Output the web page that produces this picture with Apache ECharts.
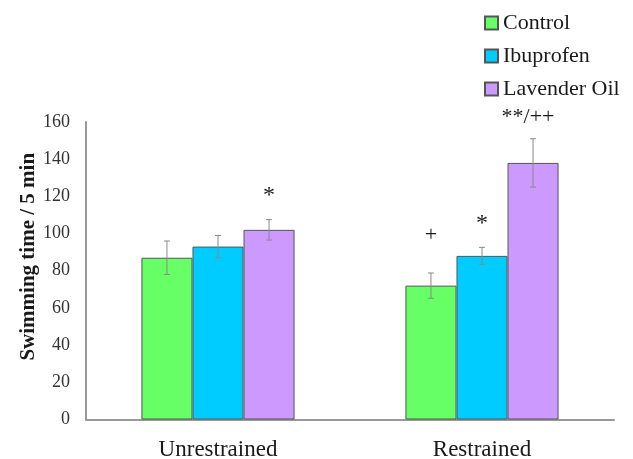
<!DOCTYPE html>
<html>
<head>
<meta charset="utf-8">
<script src="https://cdn.jsdelivr.net/npm/echarts@6/dist/echarts.min.js"></script>
<style>html,body{margin:0;padding:0;background:#fff}#c{width:633px;height:459px}</style>
</head>
<body>
<div id="c"></div>
<script>
var categories = ['Unrestrained', 'Restrained'];
var seriesNames = ['Control', 'Ibuprofen', 'Lavender Oil'];
var controlValues = [87, 72];
var ibuprofenValues = [93, 88];
var lavenderValues = [102, 138];
var controlErrors = [9, 6.8];
var ibuprofenErrors = [6, 4.6];
var lavenderErrors = [5.5, 13];
var controlMarks = ['', '+'];
var ibuprofenMarks = ['', '*'];
var lavenderMarks = ['*', '**/++'];
var yTicks = [0, 20, 40, 60, 80, 100, 120, 140, 160];

var values = [controlValues, ibuprofenValues, lavenderValues];
var errors = [controlErrors, ibuprofenErrors, lavenderErrors];
var marks = [controlMarks, ibuprofenMarks, lavenderMarks];
var colors = ['#66FF66', '#00CCFF', '#CC99FF'];
var markOffsets = {'*': 24, '+': 38, '**/++': 22};
var markShiftX = {'*': 0, '+': 0, '**/++': -5};
var markSize = {'*': 24, '+': 22, '**/++': 22};
var FONT = '"Liberation Serif", "Times New Roman", serif';
var GAP = 0.42;

var chart = echarts.init(document.getElementById('c'), null, {renderer: 'canvas'});
var series = [];
values.forEach(function (vals, s) {
  series.push({
    name: seriesNames[s],
    type: 'bar',
    data: vals,
    barGap: 0,
    barCategoryGap: (GAP * 100) + '%',
    itemStyle: {color: colors[s], borderColor: '#555', borderWidth: 1},
    emphasis: {disabled: true},
    z: 2
  });
});
values.forEach(function (vals, s) {
  series.push({
    type: 'custom',
    name: seriesNames[s] + ' err',
    data: vals.map(function (v, i) { return [i, v, errors[s][i]]; }),
    z: 5,
    silent: true,
    clip: false,
    renderItem: function (params, api) {
      var ci = api.value(0), v = api.value(1), e = api.value(2);
      var mk = marks[s][ci];
      var band = api.size([1, 0])[0];
      var bw = band * (1 - GAP) / 3;
      var c = api.coord([ci, v]);
      var x = c[0] + (s - 1) * bw;
      var top = api.coord([ci, v + e])[1];
      var bot = api.coord([ci, v - e])[1];
      var cap = 3;
      var st = {stroke: '#8a8a8a', lineWidth: 1};
      var children = [
        {type: 'line', shape: {x1: x, y1: top, x2: x, y2: bot}, style: st},
        {type: 'line', shape: {x1: x - cap, y1: top, x2: x + cap, y2: top}, style: st},
        {type: 'line', shape: {x1: x - cap, y1: bot, x2: x + cap, y2: bot}, style: st}
      ];
      if (mk) {
        children.push({
          type: 'text',
          style: {
            text: mk, x: x + markShiftX[mk], y: top - markOffsets[mk],
            align: 'center', verticalAlign: 'middle',
            font: markSize[mk] + 'px ' + FONT, fill: '#1a1a1a'
          }
        });
      }
      return {type: 'group', children: children};
    }
  });
});

chart.setOption({
  animation: false,
  backgroundColor: '#fff',
  grid: {left: 86, right: 19, top: 122, bottom: 39.5, containLabel: false, outerBoundsMode: 'none'},
  legend: {
    orient: 'vertical',
    left: 484,
    top: 12,
    padding: 0,
    data: seriesNames,
    itemWidth: 13,
    itemHeight: 13,
    itemGap: 11,
    icon: 'rect',
    textStyle: {fontFamily: FONT, fontSize: 22, color: '#1a1a1a', lineHeight: 22}
  },
  xAxis: {
    type: 'category',
    data: categories,
    axisLine: {lineStyle: {color: '#999', width: 2}},
    axisTick: {show: false},
    axisLabel: {fontFamily: FONT, fontSize: 23, color: '#1a1a1a', margin: 19}
  },
  yAxis: {
    type: 'value',
    min: yTicks[0],
    max: yTicks[yTicks.length - 1],
    interval: 20,
    name: 'Swimming time / 5 min',
    nameLocation: 'middle',
    nameGap: 47,
    nameMoveOverlap: false,
    nameTextStyle: {fontFamily: FONT, fontSize: 21, fontWeight: 'bold', color: '#1a1a1a', padding: [0, 0, 0, 28]},
    axisLine: {show: true, lineStyle: {color: '#999', width: 2}},
    axisTick: {show: false},
    splitLine: {show: false},
    axisLabel: {fontFamily: FONT, fontSize: 18, color: '#333', margin: 16}
  },
  series: series
});
</script>
</body>
</html>
